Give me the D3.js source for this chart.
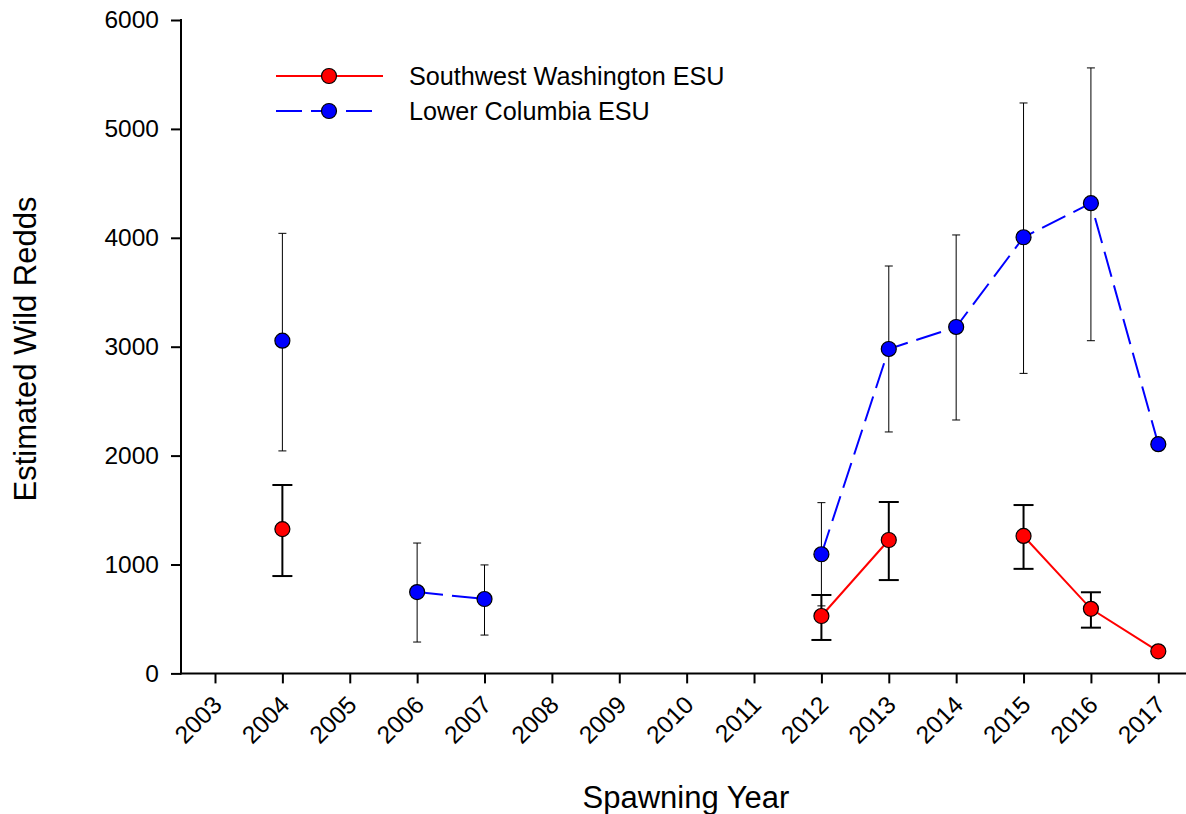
<!DOCTYPE html>
<html>
<head>
<meta charset="utf-8">
<script src="https://cdn.jsdelivr.net/npm/d3@7"></script>
<style>
  html, body { margin: 0; padding: 0; background: #fff; }
  svg { display: block; font-family: "Liberation Sans", Arial, sans-serif; }
</style>
</head>
<body>
<svg id="chart" width="1186" height="814"></svg>
<script>
// ---- data ----
const years = [2003, 2004, 2005, 2006, 2007, 2008, 2009, 2010, 2011, 2012, 2013, 2014, 2015, 2016, 2017];
const yTicks = [0, 1000, 2000, 3000, 4000, 5000, 6000];

// values per year in `years` (null = no survey)
const swValues = [null, 1325, null, null, null, null, null, null, null, 527, 1225, null, 1262, 593, 203];
const swLower  = [null, 894,  null, null, null, null, null, null, null, 307, 857,  null, 960,  420, null];
const swUpper  = [null, 1730, null, null, null, null, null, null, null, 720, 1574, null, 1546, 745, null];

const lcValues = [null, 3055, null, 747,  683, null, null, null, null, 1094, 2979, 3181, 4005, 4318, 2105];
const lcLower  = [null, 2043, null, 288,  352, null, null, null, null, 620,  2217, 2327, 2755, 3055, null];
const lcUpper  = [null, 4041, null, 1197, 996, null, null, null, null, 1568, 3741, 4026, 5238, 5560, null];

const seriesNames = ["Southwest Washington ESU", "Lower Columbia ESU"];

// ---- layout ----
const svg = d3.select("#chart");
const x = d3.scaleLinear().domain([2003, 2017]).range([215, 1158.3]);
const y = d3.scaleLinear().domain([0, 6000]).range([673.4, 20]);
const xAxisLeft = 181, xAxisRight = 1186;

const toRows = (v, lo, hi) => years.map((yr, i) => ({yr, v: v[i], lo: lo[i], hi: hi[i]}));
const sw = toRows(swValues, swLower, swUpper);
const lc = toRows(lcValues, lcLower, lcUpper);

// ---- axes ----
const yAxis = d3.axisLeft(y).tickValues(yTicks).tickSize(10).tickPadding(12).tickFormat(d3.format("d"));
const gy = svg.append("g").attr("transform", `translate(${xAxisLeft},0)`).call(yAxis);
gy.select(".domain").remove();
gy.append("line").attr("x1", 0).attr("x2", 0).attr("y1", y(6000) - 1).attr("y2", y(0) + 1)
  .attr("stroke", "#000").attr("stroke-width", 2);
gy.selectAll(".tick line").attr("stroke", "#000").attr("stroke-width", 2);
gy.selectAll(".tick text").attr("font-size", 24.5).attr("fill", "#000")
  .attr("font-family", "'Liberation Sans', Arial, sans-serif");

const xAxis = d3.axisBottom(x).tickValues(years).tickSize(10).tickFormat(d3.format("d"));
const gx = svg.append("g").attr("transform", `translate(0,${y(0)})`).call(xAxis);
gx.select(".domain").remove();
gx.append("line").attr("x1", xAxisLeft - 1).attr("x2", xAxisRight).attr("y1", 0).attr("y2", 0)
  .attr("stroke", "#000").attr("stroke-width", 2);
gx.selectAll(".tick line").attr("stroke", "#000").attr("stroke-width", 2);
gx.selectAll(".tick text")
  .attr("font-size", 24.5).attr("fill", "#000")
  .attr("font-family", "'Liberation Sans', Arial, sans-serif")
  .attr("text-anchor", "end")
  .attr("dy", null)
  .attr("y", 0)
  .attr("transform", "translate(8,33) rotate(-45)");

// axis titles
svg.append("text").attr("x", 686).attr("y", 808).attr("text-anchor", "middle")
  .attr("font-size", 31).attr("fill", "#000").text("Spawning Year");
svg.append("text").attr("transform", "translate(36,349) rotate(-90)").attr("text-anchor", "middle")
  .attr("font-size", 31).attr("fill", "#000").text("Estimated Wild Redds");

// ---- error bars ----
function errorBars(data, opts) {
  const g = svg.append("g");
  const d = data.filter(r => r.lo != null && r.hi != null);
  g.selectAll("line.v").data(d).join("line")
    .attr("x1", r => x(r.yr)).attr("x2", r => x(r.yr))
    .attr("y1", r => y(r.lo)).attr("y2", r => y(r.hi))
    .attr("stroke", "#000").attr("stroke-width", opts.w);
  ["lo", "hi"].forEach(k => {
    g.selectAll("line.c" + k).data(d).join("line")
      .attr("x1", r => x(r.yr) - opts.cap).attr("x2", r => x(r.yr) + opts.cap)
      .attr("y1", r => y(r[k])).attr("y2", r => y(r[k]))
      .attr("stroke", "#000").attr("stroke-width", opts.w);
  });
}
errorBars(lc, {w: 1, cap: 4});
errorBars(sw, {w: 2, cap: 10});

// ---- lines ----
const line = d3.line().defined(r => r.v != null).x(r => x(r.yr)).y(r => y(r.v));
svg.append("path").datum(lc).attr("d", line).attr("fill", "none")
  .attr("stroke", "#0000ff").attr("stroke-width", 2).attr("stroke-dasharray", "26,9");
svg.append("path").datum(sw).attr("d", line).attr("fill", "none")
  .attr("stroke", "#ff0000").attr("stroke-width", 2);

// ---- markers ----
function markers(data, color) {
  svg.append("g").selectAll("circle").data(data.filter(r => r.v != null)).join("circle")
    .attr("cx", r => x(r.yr)).attr("cy", r => y(r.v)).attr("r", 7.5)
    .attr("fill", color).attr("stroke", "#000").attr("stroke-width", 1.2);
}
markers(lc, "#0000ff");
markers(sw, "#ff0000");

// ---- legend ----
const legend = svg.append("g");
const legendItems = [
  {name: seriesNames[0], color: "#ff0000", dash: null, yy: 76, x2: 383},
  {name: seriesNames[1], color: "#0000ff", dash: "26,9", yy: 111, x2: 373}
];
legendItems.forEach(it => {
  legend.append("line").attr("x1", 276).attr("x2", it.x2).attr("y1", it.yy).attr("y2", it.yy)
    .attr("stroke", it.color).attr("stroke-width", 2)
    .attr("stroke-dasharray", it.dash);
  legend.append("circle").attr("cx", 329).attr("cy", it.yy).attr("r", 7.5)
    .attr("fill", it.color).attr("stroke", "#000").attr("stroke-width", 1.2);
  legend.append("text").attr("x", 409).attr("y", it.yy + 9).attr("font-size", 25.2)
    .attr("fill", "#000").text(it.name);
});
</script>
</body>
</html>
